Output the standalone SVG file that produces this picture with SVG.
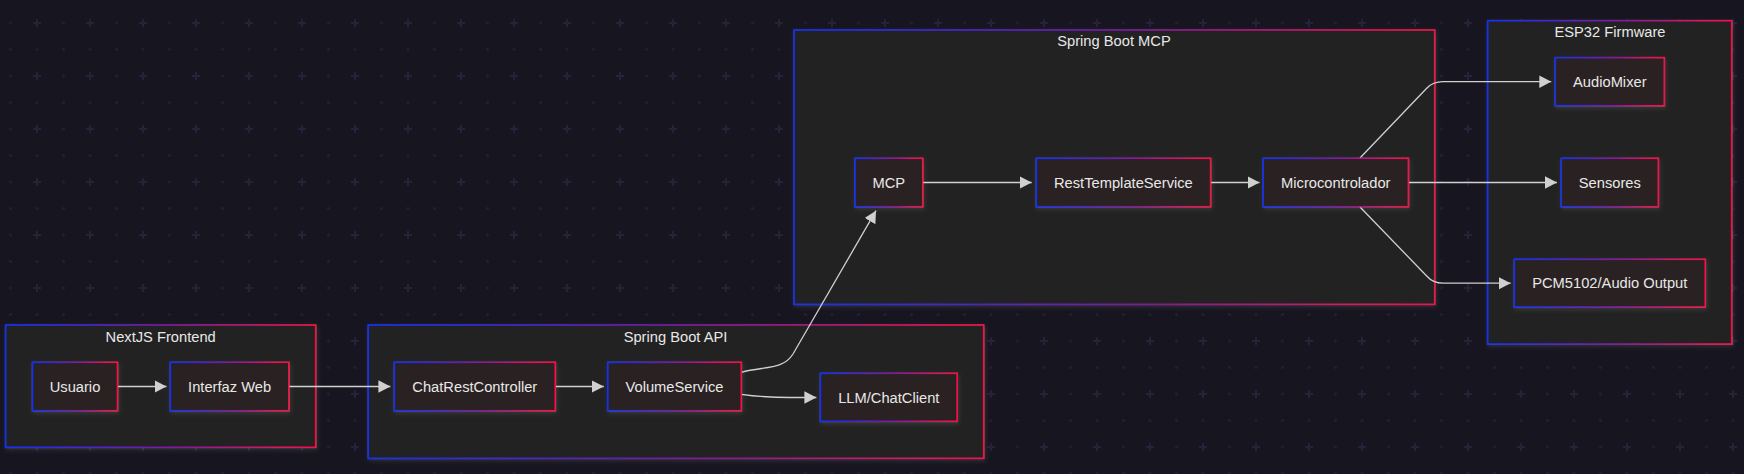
<svg xmlns="http://www.w3.org/2000/svg" width="1744" height="474" viewBox="0 0 1744 474">
<defs>
<style>
.bg{fill:#17151f}
.cl{fill:#222222;stroke:url(#grad);stroke-width:1.6;filter:url(#glow)}
.nd{fill:#2c2020;stroke:url(#grad);stroke-width:1.6;filter:url(#glow)}
text{font-family:"Liberation Sans",Arial,sans-serif;font-size:14.7px;fill:#e8e8e8;text-anchor:middle}
.ed{fill:none;stroke:#d0d0d0;stroke-width:1.3;marker-end:url(#arr)}
</style>
<linearGradient id="grad" x1="0" y1="0" x2="1" y2="0">
<stop offset="0" stop-color="#1032ff"/>
<stop offset="0.5" stop-color="#7a1aa8"/>
<stop offset="1" stop-color="#ff1048"/>
</linearGradient>
<filter id="glow" x="-10%" y="-10%" width="120%" height="130%">
<feDropShadow dx="1" dy="2" stdDeviation="2" flood-color="#ffffff" flood-opacity="0.1"/>
</filter>
<marker id="arr" markerUnits="userSpaceOnUse" markerWidth="12" markerHeight="13" refX="12" refY="6.2" orient="auto" viewBox="0 0 12 12.4">
<path d="M0,0 L12,6.2 L0,12.4 z" fill="#d0d0d0"/>
</marker>
<pattern id="grid" patternUnits="userSpaceOnUse" x="0" y="0" width="53" height="53">
<rect x="33" y="22" width="8" height="2" fill="#252239"/>
<rect x="36" y="19" width="2" height="8" fill="#252239"/>
<circle cx="10.5" cy="23" r="1.6" fill="#211f30"/>
<circle cx="10.5" cy="49.5" r="1.6" fill="#211f30"/>
<circle cx="37" cy="49.5" r="1.6" fill="#211f30"/>
</pattern>
</defs>
<rect class="bg" x="0" y="0" width="1744" height="474"/>
<rect x="0" y="0" width="1744" height="474" fill="url(#grid)"/>

<g id="cluster-nextjs">
<rect class="cl" x="5.7" y="325" width="310" height="122.3"/>
<text x="160.7" y="342">NextJS Frontend</text>
</g>
<g id="cluster-api">
<rect class="cl" x="368.2" y="325" width="615.5" height="133.3"/>
<text x="675.5" y="342">Spring Boot API</text>
</g>
<g id="cluster-mcp">
<rect class="cl" x="794" y="30" width="640.7" height="274.3"/>
<text x="1114" y="46">Spring Boot MCP</text>
</g>
<g id="cluster-esp32">
<rect class="cl" x="1487.7" y="20.7" width="244" height="323.3"/>
<text x="1610" y="37.3">ESP32 Firmware</text>
</g>

<g id="connectors">
<path class="ed" d="M117.5,386.5 L166.5,386.5"/>
<path class="ed" d="M288.9,386.5 L390.4,386.5"/>
<path class="ed" d="M555.3,386.5 L603.8,386.5"/>
<path class="ed" d="M741.3,394.3 C760,397 772,397.5 790,397.5 L816.4,397.5"/>
<path class="ed" d="M741.3,372.3 C765,366 783,370 793,354 L876,210.7"/>
<path class="ed" d="M922.7,182.5 L1031.7,182.5"/>
<path class="ed" d="M1210.6,182.5 L1259.5,182.5"/>
<path class="ed" d="M1360,158 L1426.7,88.3 Q1433,81.7 1443,81.7 L1551.3,81.7"/>
<path class="ed" d="M1408.4,182.5 L1557,182.5"/>
<path class="ed" d="M1360,207 L1426.7,276 Q1433,283.2 1443,283.2 L1510.7,283.2"/>
</g>

<g id="node-usuario">
<rect class="nd" x="32.5" y="362.3" width="85" height="48.4"/>
<text x="75" y="391.7">Usuario</text>
</g>
<g id="node-interfaz">
<rect class="nd" x="170.3" y="362.3" width="118.6" height="48.4"/>
<text x="229.6" y="391.7">Interfaz Web</text>
</g>
<g id="node-chatrest">
<rect class="nd" x="394.3" y="362.3" width="161" height="48.4"/>
<text x="474.8" y="391.7">ChatRestController</text>
</g>
<g id="node-volume">
<rect class="nd" x="607.8" y="362.3" width="133.5" height="48.4"/>
<text x="674.5" y="391.7">VolumeService</text>
</g>
<g id="node-llm">
<rect class="nd" x="820.4" y="373.3" width="136.8" height="48"/>
<text x="888.8" y="402.5">LLM/ChatClient</text>
</g>
<g id="node-mcp">
<rect class="nd" x="855" y="158.3" width="67.7" height="48.4"/>
<text x="888.8" y="187.7">MCP</text>
</g>
<g id="node-rest">
<rect class="nd" x="1036.3" y="158.3" width="174.3" height="48.4"/>
<text x="1123.4" y="187.7">RestTemplateService</text>
</g>
<g id="node-micro">
<rect class="nd" x="1263.2" y="158.3" width="145.2" height="48.4"/>
<text x="1335.8" y="187.7">Microcontrolador</text>
</g>
<g id="node-audiomixer">
<rect class="nd" x="1555.3" y="57.7" width="109" height="48"/>
<text x="1609.8" y="86.9">AudioMixer</text>
</g>
<g id="node-sensores">
<rect class="nd" x="1561.3" y="158.3" width="97" height="48.4"/>
<text x="1609.8" y="187.7">Sensores</text>
</g>
<g id="node-pcm">
<rect class="nd" x="1514.3" y="259.3" width="191" height="47.7"/>
<text x="1609.8" y="288.4">PCM5102/Audio Output</text>
</g>
</svg>
